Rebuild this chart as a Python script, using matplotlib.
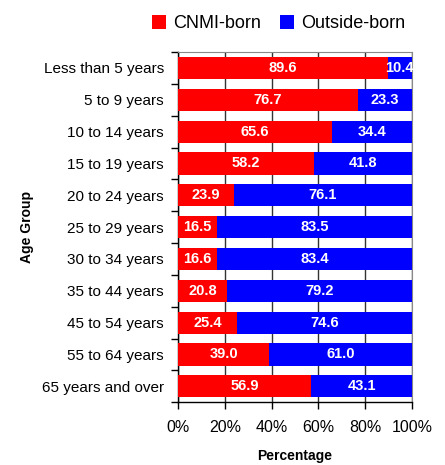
import matplotlib
matplotlib.use('Agg')
import matplotlib.pyplot as plt
import numpy as np

#region Data

age_groups = ['Less than 5 years', '5 to 9 years', '10 to 14 years', '15 to 19 years',
              '20 to 24 years', '25 to 29 years', '30 to 34 years', '35 to 44 years',
              '45 to 54 years', '55 to 64 years', '65 years and over']
cnmi_born = [89.6, 76.7, 65.6, 58.2, 23.9, 16.5, 16.6, 20.8, 25.4, 39.0, 56.9]
outside_born = [10.4, 23.3, 34.4, 41.8, 76.1, 83.5, 83.4, 79.2, 74.6, 61.0, 43.1]
x_ticks = [0, 20, 40, 60, 80, 100]

#endregion

#region Plot

plt.rcParams['font.family'] = ['Liberation Sans', 'DejaVu Sans']

fig = plt.figure(figsize=(4.45, 4.65), dpi=100)
ax = fig.add_axes([0.4, 0.135, 0.526, 0.753])

y = np.arange(len(age_groups))
bh = 0.7
ax.barh(y, cnmi_born, height=bh, color='#ff0000', label='CNMI-born', zorder=3)
ax.barh(y, outside_born, left=cnmi_born, height=bh, color='#0000ff', label='Outside-born', zorder=3)

for i in range(len(age_groups)):
    ax.text(cnmi_born[i] / 2, y[i], '%.1f' % cnmi_born[i], ha='center', va='center',
            color='white', fontweight='bold', fontsize=10.5, zorder=4)
    xo = cnmi_born[i] + outside_born[i] / 2
    ax.text(min(xo, 94.8), y[i], '%.1f' % outside_born[i], ha='center', va='center',
            color='white', fontweight='bold', fontsize=10.5, zorder=4)

ax.set_xlim(0, 100)
ax.set_ylim(len(age_groups) - 0.5, -0.5)
ax.set_xticks(x_ticks)
ax.set_xticklabels(['%d%%' % t for t in x_ticks], fontsize=11.5)
ax.set_yticks(y)
ax.set_yticklabels(age_groups, fontsize=11)
ax.set_yticks(np.arange(len(age_groups) + 1) - 0.5, minor=True)
ax.tick_params(axis='y', which='major', length=0, pad=10)
ax.tick_params(axis='y', which='minor', length=5, width=1, color='black')
ax.tick_params(axis='x', length=5, width=1, pad=8)
ax.grid(axis='x', color='#333333', linewidth=1, zorder=0)

for s in ['top', 'right']:
    ax.spines[s].set_color('#888888')
ax.spines['left'].set_linewidth(1)
ax.spines['bottom'].set_linewidth(1)

ax.set_xlabel('Percentage', fontweight='bold', fontsize=10)
ax.xaxis.set_label_coords(0.5, -0.135)
ax.set_ylabel('Age Group', fontweight='bold', fontsize=10)
ax.yaxis.set_label_coords(-0.615, 0.5)

ax.legend(loc='lower center', bbox_to_anchor=(0.43, 1.01), ncol=2, frameon=False,
          fontsize=13, handlelength=0.8, handleheight=0.8, handletextpad=0.4,
          columnspacing=1.0)

fig.savefig('out.png', dpi=100)

#endregion
